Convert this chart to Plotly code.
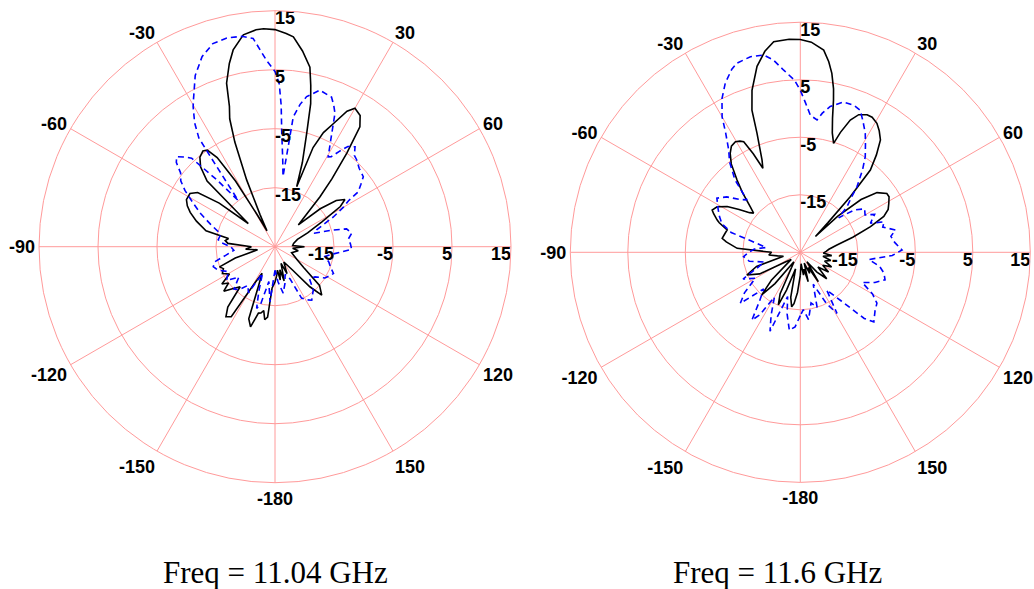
import plotly.graph_objects as go

# ---- Freq = 11.04 GHz (left) ----
# solid black
left_solid_theta = [-180, -176, -174, -172, -170, -168, -166, -163, -160, -157, -154, -151, -148, -145, -142,
                    -139, -135, -131, -128, -125, -121, -117, -113, -110, -106, -100, -95, -90, -86, -83, -80,
                    -77, -72, -68, -65, -62, -58, -55, -52, -49, -46, -43, -40, -37, -35, -33, -31, -29, -27,
                    -25, -23, -21, -19.5, -18, -16.5, -14, -12, -8.5, -5, -3, 0, 3, 5, 8, 11, 12.5, 14, 15.6,
                    18, 19.9, 21, 23, 25.3, 28, 30, 33, 35.3, 37.5, 40, 42, 47, 50, 53, 56, 58.4, 62, 67, 72,
                    80, 86, 90, 95, 100, 110, 120, 126, 131, 136, 139, 143, 150, 156, 160, 165, 168, 171, 174,
                    177, 180]
left_solid_db = [-19, -18, -13, -12.5, -14, -13.5, -13.4, -10.8, -12, -18, -20, -18, -11, -10.5, -12,
                 -16, -15, -13.5, -15, -14, -16, -15, -15.5, -15, -18, -22, -20, -21, -17, -16.5, -17,
                 -13, -11, -9.5, -8.6, -8, -8, -9, -13, -19, -9, -6.5, -5.2, -4.7, -5, -7, -12, -19, -22,
                 -19, -12.7, -6, -2, 0, 3.9, 7, 9.1, 11.3, 11.9, 12, 11.8, 11.2, 10.7, 8.5, 6, 3, 0, -5,
                 -10, -14.2, -7, -4, -2, 1, 2.1, 1.5, -0.1, -5, -10, -13.6, -19.6, -15, -12, -10.7, -12, -16, -19, -21,
                 -21.8, -22, -20, -22, -21, -22, -20.7, -19, -15, -13.6, -16, -20, -22, -20, -22, -19, -21, -19.3, -21,
                 -20, -19]

# dashed blue
left_dash_theta = [-180, -176, -174.8, -170, -166, -163.4, -160, -155, -150, -145, -140, -136, -130, -125, -118,
                   -112, -108, -104, -100, -95, -90, -86, -83, -79, -75, -71, -66, -62, -58, -55, -52, -49.5,
                   -47.5, -45, -43.3, -41, -38.5, -36, -35, -33, -30.3, -29, -25, -21, -17, -13, -9, -6, -2.6,
                   0, 1.5, 2.5, 3.4, 5, 6.5, 7.5, 8, 10, 11.9, 16, 20.7, 22.5, 24.2, 26.6, 28.5, 30.6, 32, 34,
                   36, 38.7, 41, 43.3, 47, 51.6, 54, 56.6, 58, 60, 63, 68, 71, 74, 76, 80, 84, 88, 92, 95, 97,
                   101, 106, 110, 114.6, 118, 122, 127, 133, 138.5, 143, 145.5, 149, 152.7, 155, 160, 165, 170,
                   175, 180]
left_dash_db = [-21, -18, -15.6, -19, -15, -14.1, -17, -20, -16, -17, -15.5, -15, -17, -15, -16,
                -14.5, -14, -14.5, -16.5, -18, -17.5, -16, -15.3, -15.5, -15, -13.5, -11.2, -9.3, -7, -5.5, -4.7, -3,
                -2.4, -3.5, -4.4, -10, -15, -8, -2.5, 0, 2.5, 3.5, 7, 9.5, 11, 11.3, 11.1, 10.5, 6.6,
                4.7, 2.6, -1, -5.7, -10, -13, -8, -2.8, -0.5, 1.0, 2.6, 2.1, 1, -0.2, -3.5, -5.5, -7.3, -7, -5.5,
                -4, -3.3, -4.5, -4.8, -5.5, -5.9, -7, -8.1, -10.3, -11.6, -13.9, -17.4, -18, -14.7, -12.5, -11.8, -12.5, -12.2, -12, -14, -15,
                -16.4, -15.5, -15, -14.1, -14.5, -15, -16.5, -17, -15.2, -14.5, -14, -14.5, -15.2, -19, -20, -18.5, -17,
                -19, -21]

# ---- Freq = 11.6 GHz (right) ----
right_solid_theta = [-180, -176, -173, -171, -168, -164, -160, -157.3, -154, -150, -146, -141, -137.8, -134,
                     -128, -123, -118, -113, -108, -103, -99, -95, -90, -86.4, -82, -79.9, -76, -73, -70, -68.8,
                     -66, -64.4, -61.3, -58, -55, -52, -50, -47.6, -44, -41.2, -38, -35.3, -33, -30.4, -28.5,
                     -27.1, -25.5, -24, -22.5, -20, -18.8, -16.6, -13.1, -10, -7.2, -3, 0, 3, 6.6, 8.5, 10, 11.5,
                     12.3, 13.5, 15, 17, 18.5, 20.7, 23, 25.9, 28, 30.7, 33, 35.5, 38, 40.4, 41.9, 43, 43.8, 46,
                     49, 52.1, 55.8, 58, 61, 64, 66.8, 69.9, 74, 78.7, 84, 88, 92, 96, 100, 105, 110, 115, 120,
                     125, 130, 135, 140, 145, 148.5, 152, 156, 160, 165, 168, 172, 176, 180]
right_solid_db = [-21, -18, -16, -15.4, -17, -22, -18, -15.1, -17, -22, -23, -18, -15, -18,
                  -23, -22, -17, -14.9, -17, -22, -21, -19.5, -20, -14, -12, -11.2, -11.5, -11.7, -10, -9.5,
                  -8.5, -8, -8.5, -10, -12, -13.8, -14.4, -13.2, -10.5, -8.3, -5.5, -3.9, -3, -2.7, -3,
                  -3.4, -6, -9, -7.6, -3, 1.1, 4.4, 8.2, 10.5, 11.9, 12.1, 12, 11.6, 10.4, 8.5, 6.6, 4,
                  2.1, -1, -3.5, -5.2, -3, -0.4, 1, 1.6, 1.6, 1.1, 0.2, -1, -3.5, -6.2, -12, -18, -21.2, -16,
                  -11, -8.1, -6.8, -6.8, -7.4, -8, -9.2, -12, -15.5, -18.5, -20, -20.5, -21, -19.5, -21, -19.5, -20.5, -19, -20.5,
                  -19, -21, -18.5, -20.5, -23, -19, -22, -21, -23, -19.7, -22, -21, -23, -21]

right_dash_theta = [-180, -176, -172, -168, -164, -159, -155, -150, -147, -144.5, -140, -135, -130.4, -126, -120,
                    -115, -110, -105, -100, -94.4, -90, -86, -82, -78, -74, -70, -66, -62, -57, -53, -49, -45.5,
                    -42, -38, -35, -32, -30, -27, -23.9, -20.5, -18.5, -14.3, -10.5, -8, -5.2, -2, 0, 2, 4.2,
                    7.2, 9, 11.6, 16, 20, 22.9, 25.5, 28.6, 31, 34.2, 37, 40.8, 43, 45.6, 48, 52, 56, 60, 63,
                    67.5, 70, 73, 76.8, 80, 84, 88.7, 92, 96, 100, 104, 108, 112, 116, 120, 123.6, 128, 133.4,
                    136, 140, 145, 149, 153, 158, 163, 168, 173, 177, 180]
right_dash_db = [-14, -12, -11.3, -14, -17, -10.3, -13, -16, -12, -10.5, -14, -16, -11.3, -13, -16,
                 -14, -17, -18.5, -16, -15.1, -16, -17, -19, -17, -12.5, -10.5, -9.6, -8.8, -7.7, -9, -11, -12,
                 -8, -5, -3.3, -0.5, 2.2, 5, 7.2, 9, 9.7, 10.1, 9.9, 8.8, 6.8, 5, 3.2, 1, -1.1,
                 -1.8, -0.5, 0.9, 2.2, 2.2, 1.8, 0.3, -1.4, -3, -4.9, -7, -9.9, -12, -13.6, -16, -13, -11.5, -12, -10.5,
                 -11.8, -9.5, -10, -8, -9, -8.5, -7.3, -9, -13, -11, -10, -9.5, -11, -13, -10.5, -9, -8.5, -7.4,
                 -9, -14, -17, -12.6, -15, -19, -15, -16, -13.2, -15, -14]

# axis ticks
ring_values = [-15, -5, 5, 15]
ring_labels = ["-15", "-5", "5", "15"]
angle_vals = [0, 30, 60, 90, 120, 150, 180, 210, 240, 270, 300, 330]
angle_text = ["", "30", "60", "", "120", "150", "-180", "-150", "-120", "-90", "-60", "-30"]
captions = ["Freq = 11.04 GHz", "Freq = 11.6 GHz"]

W, H = 1034, 589
GRID = "#ff9a9a"
BOLD = dict(family="Liberation Sans, Arial, sans-serif", size=18, color="black", weight="bold")
SERIF = dict(family="Liberation Serif, Times New Roman, serif", size=31, color="black")

fig = go.Figure()

panels = [
    ("polar", left_solid_theta, left_solid_db, left_dash_theta, left_dash_db),
    ("polar2", right_solid_theta, right_solid_db, right_dash_theta, right_dash_db),
]
for sub, ts, rs, td, rd in panels:
    fig.add_trace(go.Scatterpolar(theta=ts, r=rs, mode="lines", subplot=sub,
                                  line=dict(color="black", width=1.6), showlegend=False))
    fig.add_trace(go.Scatterpolar(theta=td, r=rd, mode="lines", subplot=sub,
                                  line=dict(color="#0000ff", width=1.6, dash="6px,4px"), showlegend=False))
    # radial labels along the 0 deg spoke and the 90 deg spoke
    fig.add_trace(go.Scatterpolar(theta=[0] * 4, r=ring_values, text=ring_labels, mode="text",
                                  textposition="bottom right", textfont=BOLD, subplot=sub,
                                  cliponaxis=False, showlegend=False, hoverinfo="skip"))
    fig.add_trace(go.Scatterpolar(theta=[90] * 4, r=ring_values, text=ring_labels, mode="text",
                                  textposition="bottom left", textfont=BOLD, subplot=sub,
                                  cliponaxis=False, showlegend=False, hoverinfo="skip"))

polar_style = dict(
    bgcolor="white",
    radialaxis=dict(range=[-25, 15], tickvals=ring_values, showticklabels=False, ticks="",
                    showline=False, gridcolor=GRID, gridwidth=1),
    angularaxis=dict(rotation=90, direction="clockwise", tickmode="array", tickvals=angle_vals,
                     ticktext=angle_text, tickfont=BOLD, ticks="", showline=True, linecolor=GRID,
                     linewidth=1, gridcolor=GRID, gridwidth=1),
)

fig.update_layout(
    width=W, height=H,
    margin=dict(l=0, r=0, t=0, b=0),
    paper_bgcolor="white",
    polar=dict(domain=dict(x=[39 / W, 511 / W], y=[1 - 482.7 / H, 1 - 10.7 / H]), **polar_style),
    polar2=dict(domain=dict(x=[570.3 / W, 1030.3 / W], y=[1 - 482.3 / H, 1 - 22.3 / H]), **polar_style),
    annotations=[
        dict(text=captions[0], x=275 / W, y=1 - 572 / H, xref="paper", yref="paper", showarrow=False,
             xanchor="center", yanchor="middle", font=SERIF),
        dict(text=captions[1], x=777 / W, y=1 - 572 / H, xref="paper", yref="paper", showarrow=False,
             xanchor="center", yanchor="middle", font=SERIF),
    ],
)

# the page body has a default 8px margin; drop it so the figure fills the window exactly
fig.write_html("out.html", config={"displayModeBar": False},
               post_script="document.body.style.margin='0';document.body.style.overflow='hidden';")
